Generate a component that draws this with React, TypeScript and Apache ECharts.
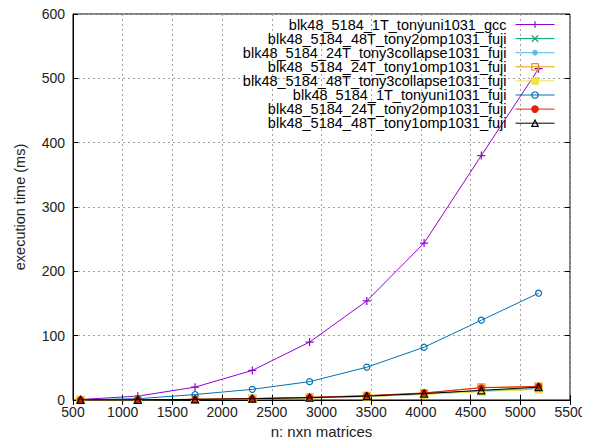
import React, { useEffect, useRef } from "react";
import * as echarts from "echarts";

// matrix sizes n (blocks of 576)
const sizes = [576, 1152, 1728, 2304, 2880, 3456, 4032, 4608, 5184];

const seriesNames = [
  "blk48_5184_1T_tonyuni1031_gcc",
  "blk48_5184_48T_tony2omp1031_fuji",
  "blk48_5184_24T_tony3collapse1031_fuji",
  "blk48_5184_24T_tony1omp1031_fuji",
  "blk48_5184_48T_tony3collapse1031_fuji",
  "blk48_5184_1T_tonyuni1031_fuji",
  "blk48_5184_24T_tony2omp1031_fuji",
  "blk48_5184_48T_tony1omp1031_fuji",
];

// execution time (ms) per size
const gcc1T = [0.8, 6, 20, 46, 90, 154, 244, 380, 515];
const omp2_48T = [0.1, 0.3, 0.8, 1.8, 3.3, 5.5, 9, 14, 17];
const collapse3_24T = [0.1, 0.3, 0.9, 2, 3.5, 5.8, 9.5, 14.5, 18];
const omp1_24T = [0.1, 0.4, 1, 2.2, 4, 6.5, 10.5, 19.5, 21];
const collapse3_48T = [0.1, 0.3, 0.8, 1.8, 3.2, 5.3, 8.5, 13, 16.5];
const fuji1T = [0.3, 2, 8.5, 16.6, 28.5, 51, 82, 124, 166];
const omp2_24T = [0.1, 0.4, 1, 2.3, 4.2, 6.8, 11, 19, 21];
const omp1_48T = [0.1, 0.3, 0.9, 2, 3.6, 6, 10, 15, 20];

const xTicks = { min: 500, max: 5500, step: 500 };
const yTicks = { min: 0, max: 600, step: 100 };

const colors = ["#9400d3", "#009e73", "#56b4e9", "#e69f00", "#f0e442", "#0072b2", "#e51e10", "#000000"];

const PLUS = "path://M5,0L5,10M0,5L10,5";
const CROSS = "path://M0,0L10,10M10,0L0,10";
const STAR = "path://M5,0L5,10M0,5L10,5M1.5,1.5L8.5,8.5M8.5,1.5L1.5,8.5";

type Mark = { symbol: string; filled: boolean; size: number };
const marks: Mark[] = [
  { symbol: PLUS, filled: false, size: 8 },
  { symbol: CROSS, filled: false, size: 6 },
  { symbol: STAR, filled: false, size: 7 },
  { symbol: "rect", filled: false, size: 7 },
  { symbol: "rect", filled: true, size: 7 },
  { symbol: "circle", filled: false, size: 6 },
  { symbol: "circle", filled: true, size: 6 },
  { symbol: "triangle", filled: false, size: 7 },
];

const values = [gcc1T, omp2_48T, collapse3_24T, omp1_24T, collapse3_48T, fuji1T, omp2_24T, omp1_48T];

const FONT = "Liberation Sans, Arial, sans-serif";

export default function App() {
  const ref = useRef<HTMLDivElement>(null);

  useEffect(() => {
    if (!ref.current) return;
    const chart = echarts.init(ref.current, undefined, { renderer: "svg" });

    const series = seriesNames.map((name, i) => {
      const c = colors[i];
      const m = marks[i];
      return {
        name,
        type: "line",
        data: sizes.map((x, j) => [x, values[i][j]]),
        symbol: m.symbol,
        symbolSize: m.size,
        showSymbol: true,
        lineStyle: { color: c, width: 1 },
        itemStyle: {
          color: m.filled ? c : "rgba(0,0,0,0)",
          borderColor: c,
          borderWidth: 1.2,
        },
        emphasis: { disabled: true },
        z: 2 + i,
      };
    });

    const legends = seriesNames.map((name, i) => ({
      data: [name],
      orient: "vertical",
      align: "right",
      right: 35,
      top: 17 + i * 14.1,
      padding: 0,
      itemWidth: 39,
      itemHeight: 8,
      selectedMode: false,
      lineStyle: { width: 1 },
      itemStyle: { borderWidth: 1.2 },
      textStyle: {
        fontFamily: FONT,
        fontSize: 14.5,
        lineHeight: 13,
        color: "#000",
        padding: [0, 4, 0, 0],
      },
    }));

    const mirrorTick = { show: true, inside: true, length: 5, lineStyle: { color: "#000" } };
    const mirrorX = {
      type: "value",
      position: "top",
      min: xTicks.min,
      max: xTicks.max,
      interval: xTicks.step,
      axisLine: { show: false },
      axisTick: mirrorTick,
      axisLabel: { show: false },
      splitLine: { show: false },
    };
    const mirrorY = {
      type: "value",
      position: "right",
      min: yTicks.min,
      max: yTicks.max,
      interval: yTicks.step,
      axisLine: { show: false },
      axisTick: mirrorTick,
      axisLabel: { show: false },
      splitLine: { show: false },
    };

    const gridLine = { show: true, lineStyle: { color: "#a0a0a0", type: [2, 3], width: 1 } };
    const plain = (v: number) => String(v);

    chart.setOption({
      animation: false,
      backgroundColor: "#fff",
      grid: {
        left: 73,
        right: 20,
        top: 14,
        bottom: 44,
        show: true,
        borderColor: "#000",
        borderWidth: 1,
        backgroundColor: "transparent",
      },
      legend: legends,
      xAxis: [
        {
          type: "value",
          min: xTicks.min,
          max: xTicks.max,
          interval: xTicks.step,
          name: "n: nxn matrices",
          nameLocation: "middle",
          nameGap: 23,
          nameTextStyle: { fontFamily: FONT, fontSize: 15, color: "#222" },
          axisLine: { show: true, onZero: false, lineStyle: { color: "#000" } },
          axisTick: { show: true, inside: true, length: 5, lineStyle: { color: "#000" } },
          axisLabel: { fontFamily: FONT, fontSize: 14, color: "#222", margin: 5, formatter: plain },
          splitLine: gridLine,
        },
        mirrorX,
      ],
      yAxis: [
        {
          type: "value",
          min: yTicks.min,
          max: yTicks.max,
          interval: yTicks.step,
          name: "execution time (ms)",
          nameLocation: "middle",
          nameGap: 46,
          nameTextStyle: { fontFamily: FONT, fontSize: 14.5, color: "#222" },
          axisLine: { show: true, onZero: false, lineStyle: { color: "#000" } },
          axisTick: { show: true, inside: true, length: 5, lineStyle: { color: "#000" } },
          axisLabel: { fontFamily: FONT, fontSize: 14, color: "#222", margin: 8, formatter: plain },
          splitLine: gridLine,
        },
        mirrorY,
      ],
      series,
    });

    return () => chart.dispose();
  }, []);

  return <div ref={ref} style={{ width: 590, height: 444, marginLeft: -8, marginTop: -8 }} />;
}
